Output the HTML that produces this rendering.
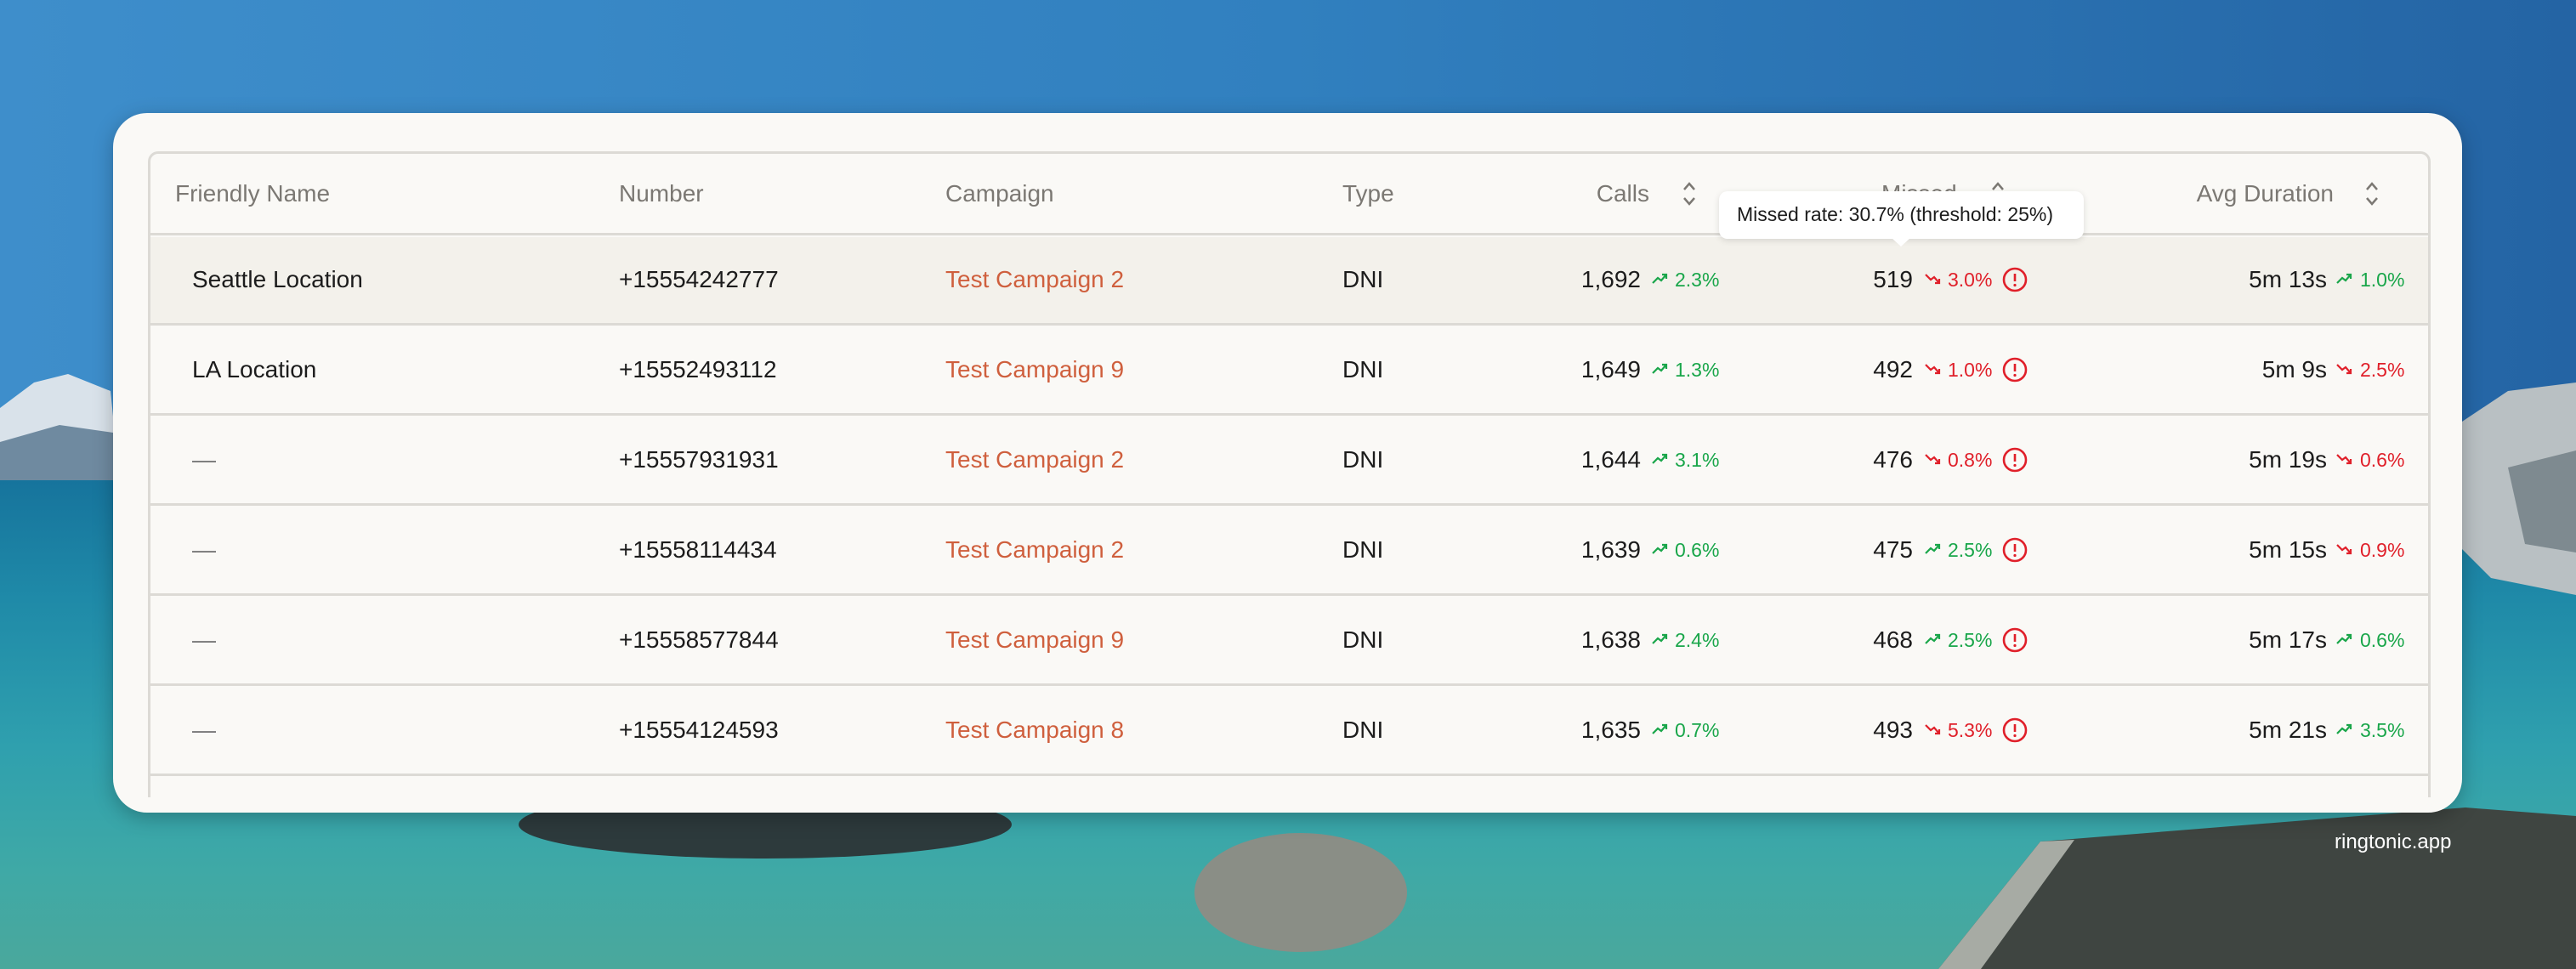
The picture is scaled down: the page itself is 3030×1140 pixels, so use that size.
<!DOCTYPE html>
<html><head><meta charset="utf-8"><style>
*{margin:0;padding:0;box-sizing:border-box}
body{width:3030px;height:1140px;overflow:hidden;position:relative;font-family:"Liberation Sans",sans-serif;
background:linear-gradient(90deg,#3e8ecb 0%,#3180bf 50%,#2464a4 100%);}
.water{position:absolute;left:0;top:560px;width:3030px;height:580px;background:linear-gradient(180deg,#16739c 0%,#1f8aa8 25%,#2fa0ae 55%,#3fa9a6 80%,#4aa89c 100%)}
.card{position:absolute;left:133px;top:133px;width:2763px;height:823px;background:#faf9f6;border-radius:40px;box-shadow:0 6px 24px rgba(0,0,0,.25)}
.tbl{position:absolute;left:174px;top:178px;width:2685px;height:760px;border:3px solid #dcdad5;border-bottom:none;border-radius:12px 12px 0 0;overflow:hidden}
.t{position:absolute;font-size:28px;white-space:nowrap;color:#1c1c1c;line-height:1}
.h{color:#7b7873}
.c{color:#cf5f3d}
.g{color:#19a64a;font-size:23px}
.r{color:#e0202a;font-size:23px}
.line{position:absolute;left:174px;width:2685px;height:3px;background:#dcdad5}
.row1{position:absolute;left:177px;top:279px;width:2679px;height:103px;background:#f3f1eb}
svg{position:absolute}
</style></head><body>
<div class="water"></div>
<!-- mountains left -->
<svg style="left:0;top:430px" width="140" height="135"><polygon points="0,50 40,20 80,10 130,30 140,130 0,130" fill="#d9e2ea"/><polygon points="0,90 70,70 140,80 140,135 0,135" fill="#6f8aa0"/></svg>
<!-- right rocks -->
<svg style="left:2890px;top:440px" width="140" height="260"><polygon points="0,60 60,20 140,10 140,260 40,240 0,200" fill="#b9c0c3"/><polygon points="60,110 140,90 140,210 80,200" fill="#7e8a90"/></svg>
<!-- bottom rocks -->
<svg style="left:0;top:940px" width="3030" height="200">
<ellipse cx="900" cy="30" rx="290" ry="40" fill="#2d3a3c"/>
<ellipse cx="1530" cy="110" rx="125" ry="70" fill="#8a8e86"/>
<path d="M2280,200 L2400,50 L2900,10 L3030,20 L3030,200 Z" fill="#3f4541"/>
<path d="M2280,200 L2400,50 L2440,48 L2330,200 Z" fill="#a7aba4"/>
</svg>
<div class="t" style="left:2746px;top:979px;color:#fff;font-size:24px">ringtonic.app</div>
<div class="card"></div>
<div class="row1"></div>
<div class="tbl"></div>
<div class="line" style="top:274px"></div>
<div class="line" style="top:380px"></div>
<div class="line" style="top:486px"></div>
<div class="line" style="top:592px"></div>
<div class="line" style="top:698px"></div>
<div class="line" style="top:804px"></div>
<div class="line" style="top:910px"></div>

<div class="t h" style="left:206px;top:214px">Friendly Name</div>
<div class="t h" style="left:728px;top:214px">Number</div>
<div class="t h" style="left:1112px;top:214px">Campaign</div>
<div class="t h" style="left:1579px;top:214px">Type</div>
<div class="t h" style="right:1090px;top:214px">Calls</div>
<svg style="left:1977px;top:212px" width="20" height="32"><path d="M4 11 L10 4 L16 11 M4 21 L10 28 L16 21" stroke="#7b7873" stroke-width="2.5" fill="none"/></svg>
<div class="t h" style="left:2213px;top:214px">Missed</div>
<svg style="left:2340px;top:212px" width="20" height="20"><path d="M4 11 L10 4 L16 11" stroke="#7b7873" stroke-width="2.5" fill="none"/></svg>
<div class="t h" style="right:285px;top:214px">Avg Duration</div>
<svg style="left:2780px;top:212px" width="20" height="32"><path d="M4 11 L10 4 L16 11 M4 21 L10 28 L16 21" stroke="#7b7873" stroke-width="2.5" fill="none"/></svg>

<!-- tooltip -->
<div style="position:absolute;left:2022px;top:225px;width:429px;height:56px;background:#fff;border-radius:10px;box-shadow:0 2px 8px rgba(0,0,0,.12)"></div>
<svg style="left:2224px;top:279px" width="24" height="12"><polygon points="0,0 24,0 12,11" fill="#fff"/></svg>
<div class="t" style="left:2043px;top:241px;font-size:23px">Missed rate: 30.7% (threshold: 25%)</div>

<div id="rows"></div>
<script>
const rows=[
["Seattle Location","+15554242777","Test Campaign 2","1,692",1,"2.3%","519",0,"3.0%","5m 13s",1,"1.0%"],
["LA Location","+15552493112","Test Campaign 9","1,649",1,"1.3%","492",0,"1.0%","5m 9s",0,"2.5%"],
["—","+15557931931","Test Campaign 2","1,644",1,"3.1%","476",0,"0.8%","5m 19s",0,"0.6%"],
["—","+15558114434","Test Campaign 2","1,639",1,"0.6%","475",1,"2.5%","5m 15s",0,"0.9%"],
["—","+15558577844","Test Campaign 9","1,638",1,"2.4%","468",1,"2.5%","5m 17s",1,"0.6%"],
["—","+15554124593","Test Campaign 8","1,635",1,"0.7%","493",0,"5.3%","5m 21s",1,"3.5%"]];
const up='<path d="M1 14 L7 8 L11 11 L17 4 M12 4 L17 4 L17 9" stroke="#19a64a" stroke-width="2.2" fill="none"/>';
const dn='<path d="M1 4 L7 10 L11 7 L17 14 M12 14 L17 14 L17 9" stroke="#e0202a" stroke-width="2.2" fill="none"/>';
let h='';
rows.forEach((r,i)=>{const y=329+i*106;const ty=y-14;
const nm=r[0]=="—"?'<div class="t" style="left:226px;top:'+ty+'px;color:#777">—</div>':'<div class="t" style="left:226px;top:'+ty+'px">'+r[0]+'</div>';
h+=nm+'<div class="t" style="left:728px;top:'+ty+'px">'+r[1]+'</div>'+
'<div class="t c" style="left:1112px;top:'+ty+'px">'+r[2]+'</div>'+
'<div class="t" style="left:1579px;top:'+ty+'px">DNI</div>'+
'<div class="t" style="right:1100px;top:'+ty+'px">'+r[3]+'</div>'+
'<svg style="left:1943px;top:'+(y-10)+'px" width="20" height="20">'+(r[4]?up:dn)+'</svg>'+
'<div class="t '+(r[4]?'g':'r')+'" style="left:1970px;top:'+(y-11)+'px">'+r[5]+'</div>'+
'<div class="t" style="right:780px;top:'+ty+'px">'+r[6]+'</div>'+
'<svg style="left:2264px;top:'+(y-10)+'px" width="20" height="20">'+(r[7]?up:dn)+'</svg>'+
'<div class="t '+(r[7]?'g':'r')+'" style="left:2291px;top:'+(y-11)+'px">'+r[8]+'</div>'+
'<svg style="left:2354px;top:'+(y-16)+'px" width="32" height="32"><circle cx="16" cy="16" r="13" stroke="#e0202a" stroke-width="2.6" fill="none"/><path d="M16 9 L16 18" stroke="#e0202a" stroke-width="2.6"/><circle cx="16" cy="22.5" r="1.6" fill="#e0202a"/></svg>'+
'<div class="t" style="right:293px;top:'+ty+'px">'+r[9]+'</div>'+
'<svg style="left:2748px;top:'+(y-10)+'px" width="20" height="20">'+(r[10]?up:dn)+'</svg>'+
'<div class="t '+(r[10]?'g':'r')+'" style="left:2776px;top:'+(y-11)+'px">'+r[11]+'</div>';});
document.getElementById('rows').innerHTML=h;
</script>
</body></html>
